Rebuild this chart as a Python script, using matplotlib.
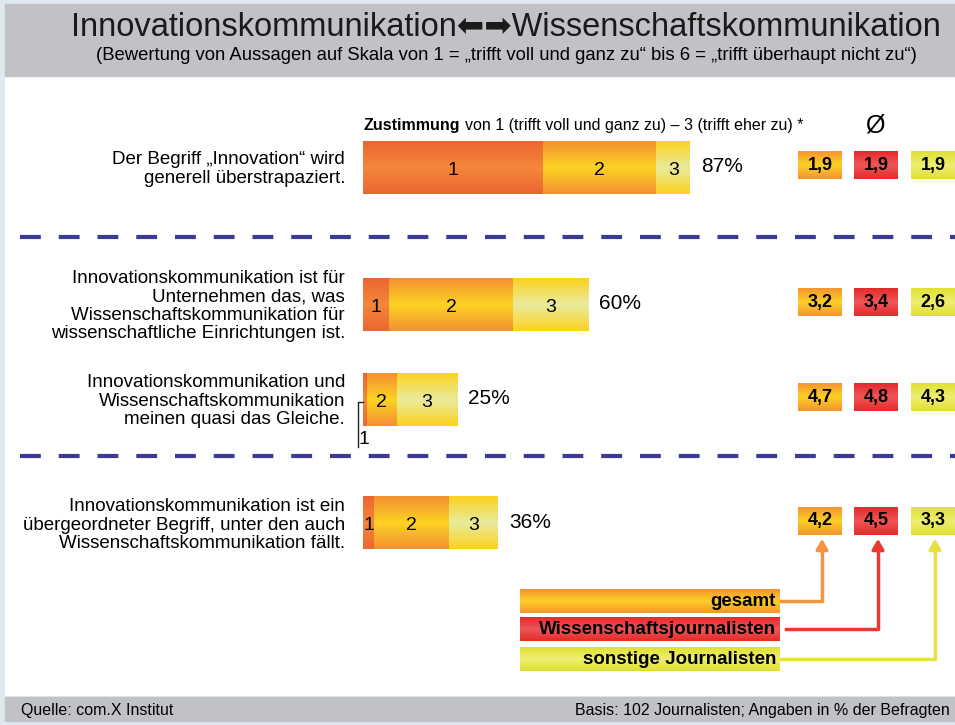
import matplotlib
matplotlib.use("Agg")
import matplotlib.pyplot as plt
import numpy as np
from matplotlib.colors import to_rgb

plt.rcParams['font.family'] = ['Liberation Sans', 'DejaVu Sans']

# data
statements = [
    "Der Begriff „Innovation“ wird\ngenerell überstrapaziert.",
    "Innovationskommunikation ist für\nUnternehmen das, was\nWissenschaftskommunikation für\nwissenschaftliche Einrichtungen ist.",
    "Innovationskommunikation und\nWissenschaftskommunikation\nmeinen quasi das Gleiche.",
    "Innovationskommunikation ist ein\nübergeordneter Begriff, unter den auch\nWissenschaftskommunikation fällt.",
]
share_1 = [48, 7, 1, 3]
share_2 = [30, 33, 8, 20]
share_3 = [9, 20, 16, 13]
totals = [87, 60, 25, 36]
avg_gesamt = [1.9, 3.2, 4.7, 4.2]
avg_wiss = [1.9, 3.4, 4.8, 4.5]
avg_sonst = [1.9, 2.6, 4.3, 3.3]
groups = ["gesamt", "Wissenschaftsjournalisten", "sonstige Journalisten"]

# layout (pixels)
W, H = 955, 725
row_y = [167, 304, 399, 523]
bar_h = 53
bar_x0 = 363
px_per_pct = 3.76
box_x = [820, 876, 933]
box_w, box_h = 44, 28

seg_cols = [("#ec6631", "#f4873a"), ("#f39033", "#fdd322"), ("#fdd21f", "#e8eb9e")]
grp_cols = [("#f59431", "#fcd024"), ("#e42a2c", "#ef5656"), ("#e0e033", "#eeee72")]
line_cols = ["#f49440", "#e83a30", "#e8e040"]
dash_col = "#3b3b96"


def gradient(axis, x0, y0, w, h, edge, mid, zorder=2):
    e, m = np.array(to_rgb(edge)), np.array(to_rgb(mid))
    t = np.abs(np.linspace(-1, 1, 64))[:, None]
    img = (t * e + (1 - t) * m)[:, None, :]
    axis.imshow(img, extent=[x0, x0 + w, y0 + h, y0], aspect='auto',
                interpolation='bilinear', zorder=zorder)


fig = plt.figure(figsize=(W / 100, H / 100), dpi=100)
fig.patch.set_facecolor("#dfe8ef")

ax = fig.add_axes([0, 0, 1, 1])
ax.set_xlim(0, W)
ax.set_ylim(H, 0)
ax.axis('off')

# background panels
ax.add_patch(plt.Rectangle((5, 77), W, 618, color="white", zorder=0))
ax.add_patch(plt.Rectangle((5, 4), W, 72, color="#c0c2c6", zorder=0))
ax.add_patch(plt.Rectangle((5, 697), W, 24, color="#c0c2c6", zorder=0))

ax.text(506, 27, "Innovationskommunikation⬅➡Wissenschaftskommunikation",
        ha='center', va='center', fontsize=23.5, color="#1a1a1a")
ax.text(506, 55, "(Bewertung von Aussagen auf Skala von 1 = „trifft voll und ganz zu“ "
        "bis 6 = „trifft überhaupt nicht zu“)", ha='center', va='center', fontsize=13.3)
ax.text(21, 711, "Quelle: com.X Institut", ha='left', va='center', fontsize=11.5)
ax.text(950, 711, "Basis: 102 Journalisten; Angaben in % der Befragten",
        ha='right', va='center', fontsize=11.5)

# header above bars
zs = ax.text(bar_x0, 125, "Zustimmung", fontweight='bold', fontsize=11.5,
             ha='left', va='center')
ax.annotate("von 1 (trifft voll und ganz zu) – 3 (trifft eher zu) *",
            xy=(1, 0.5), xycoords=zs, xytext=(4, 0), textcoords='offset points',
            va='center', ha='left', fontsize=11.5)
ax.text(875, 125, "Ø", ha='center', va='center', fontsize=18)

# dashed separators
for yd in [237, 456]:
    ax.plot([20, W], [yd, yd], color=dash_col, lw=3, dashes=(5, 4.3),
            solid_capstyle='butt', zorder=1)

# statements
for y, s in zip(row_y, statements):
    ax.text(345, y + 2, s, ha='right', va='center', fontsize=13.5, linespacing=1.1)

# bars in percent units
axb = fig.add_axes([0, 0, 1, 1])
axb.set_xlim(-bar_x0 / px_per_pct, (W - bar_x0) / px_per_pct)
axb.set_ylim(H, 0)
axb.axis('off')
axb.patch.set_alpha(0)

lefts = np.zeros(len(totals))
for k, vals in enumerate([share_1, share_2, share_3]):
    bars = axb.barh(row_y, vals, left=lefts, height=bar_h, color='none')
    for i, p in enumerate(bars.patches):
        gradient(axb, p.get_x(), p.get_y(), p.get_width(), p.get_height(), *seg_cols[k])
        cx = p.get_x() + p.get_width() / 2
        if vals[i] >= 2:
            axb.text(cx, row_y[i] + 3, str(k + 1), ha='center', va='center',
                     fontsize=14, zorder=5)
        else:
            xl = p.get_x() - 5 / px_per_pct
            axb.plot([p.get_x(), xl, xl], [row_y[i] + 3, row_y[i] + 3, row_y[i] + 48],
                     color="#222222", lw=1, zorder=5)
            axb.text(xl + 1 / px_per_pct, row_y[i] + 40, str(k + 1), ha='left',
                     va='center', fontsize=14, zorder=5)
    lefts = lefts + np.array(vals)

for y, t in zip(row_y, totals):
    axb.text(t + 2.8, y - 1, f"{t}%", ha='left', va='center', fontsize=15)

# average boxes
for j, vals in enumerate([avg_gesamt, avg_wiss, avg_sonst]):
    for y, v in zip(row_y, vals):
        gradient(ax, box_x[j] - box_w / 2, y - 16, box_w, box_h, *grp_cols[j])
        ax.text(box_x[j], y - 2, f"{v:.1f}".replace('.', ','), ha='center', va='center',
                fontsize=13, fontweight='bold', zorder=5)

# legend with connectors
leg_y = [601, 629, 659]
for j, (g, ly) in enumerate(zip(groups, leg_y)):
    gradient(ax, 520, ly - 12, 259, 24, *grp_cols[j])
    ax.text(776, ly, g, ha='right', va='center', fontsize=13.5, fontweight='bold', zorder=5)
    x_start = 786 if j == 1 else 781
    ax.plot([x_start, box_x[j] + 2, box_x[j] + 2], [ly, ly, row_y[-1] + 26],
            color=line_cols[j], lw=2.5, zorder=3)
    ax.annotate("", xy=(box_x[j] + 2, row_y[-1] + 13), xytext=(box_x[j] + 2, row_y[-1] + 28),
                arrowprops=dict(arrowstyle="-|>,head_width=0.35,head_length=0.6",
                                color=line_cols[j], lw=2.5), zorder=3)

fig.savefig("out.png", dpi=100)
